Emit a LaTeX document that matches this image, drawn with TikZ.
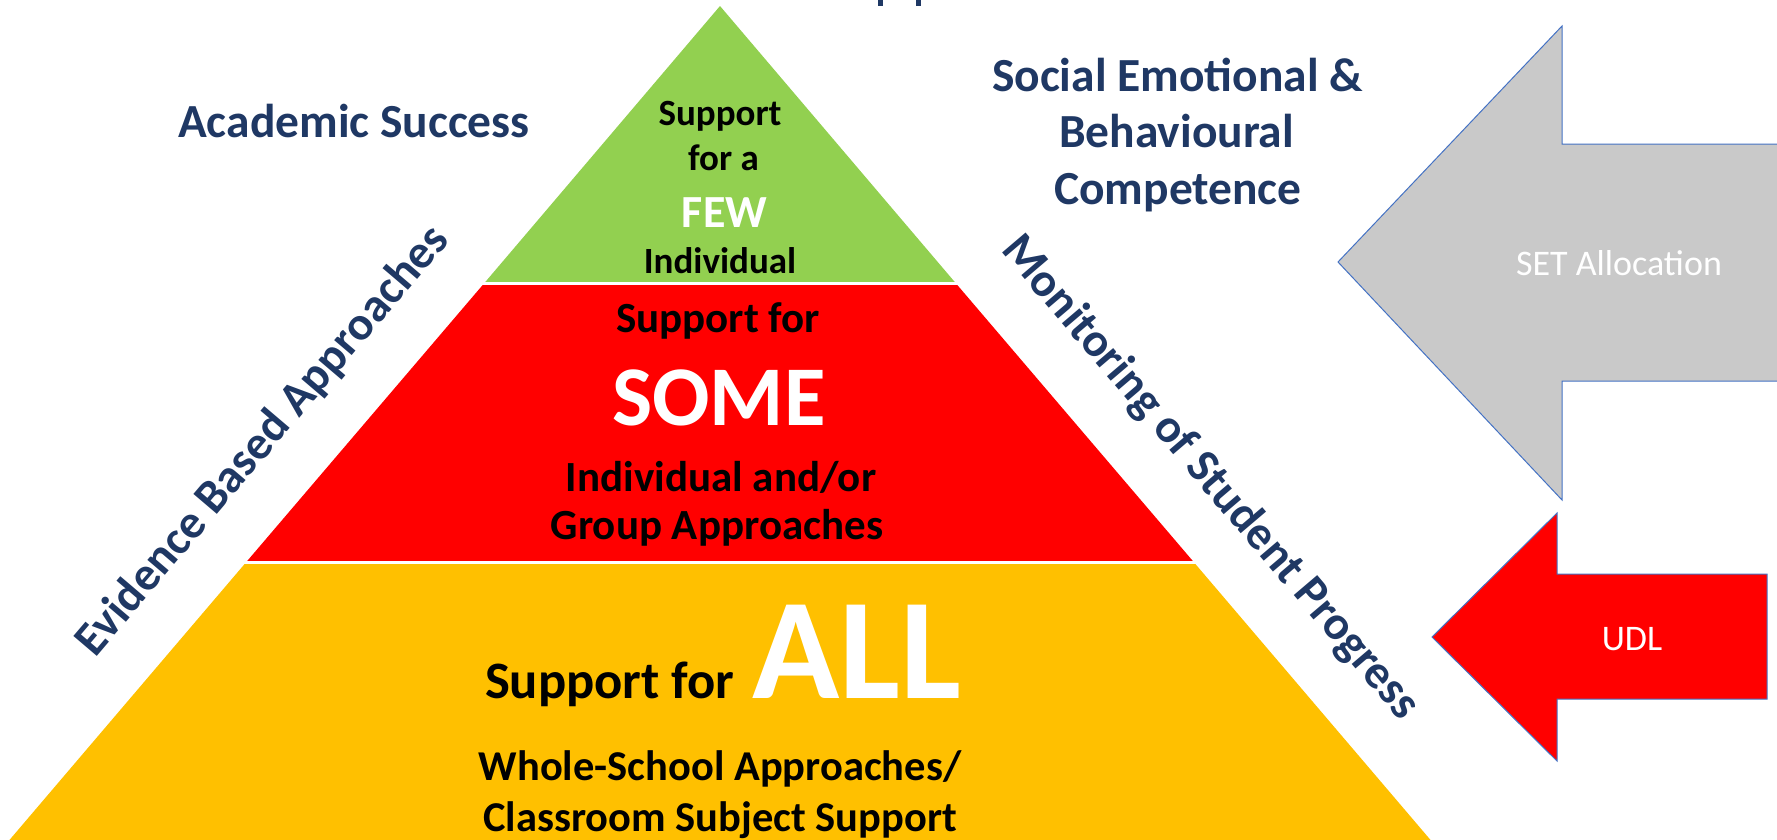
\documentclass[tikz,border=0pt]{standalone}
\usepackage{fontspec}
\setmainfont{Carlito}
\definecolor{navy}{HTML}{1F3864}
\definecolor{pgreen}{HTML}{92D050}
\definecolor{pred}{HTML}{FF0000}
\definecolor{pyellow}{HTML}{FFC000}
\definecolor{agray}{HTML}{C9C9C9}
\definecolor{aline}{HTML}{4472C4}
\tikzset{
  lbl/.style={inner sep=0pt, outer sep=0pt},
  navytxt/.style={lbl, text=navy, font=\bfseries\fontsize{47.5}{57}\selectfont},
  fewtxt/.style={lbl, text=black, font=\bfseries\fontsize{37}{44}\selectfont},
  sometxt/.style={lbl, text=black, font=\bfseries\fontsize{43}{50}\selectfont},
  alltxt/.style={lbl, text=black, font=\bfseries\fontsize{42.5}{50}\selectfont},
  arrowtxt/.style={lbl, text=white, font=\fontsize{36}{43}\selectfont},
  arrowshape/.style={draw=aline, line width=1pt},
  sep/.style={white, line width=3pt}
}
\begin{document}
\begin{tikzpicture}[x=1pt,y=-1pt]
\useasboundingbox (0,0) rectangle (1777,839);
% pyramid bands
\fill[pgreen] (720,6) -- (955.6,283) -- (484.4,283) -- cycle;
\fill[pred] (484.4,283) -- (955.6,283) -- (1194.1,562.5) -- (245.9,562.5) -- cycle;
\fill[pyellow] (245.9,562.5) -- (1194.1,562.5) -- (1434.8,845) -- (5.2,845) -- cycle;
\draw[sep] (470,283) -- (970,283);
\draw[sep] (230,562.5) -- (1210,562.5);
% cut-off title descenders
\fill[navy] (878.3,0) rectangle (883.3,5.7);
\fill[navy] (916,0) rectangle (921,5.7);
% arrows
\filldraw[agray, arrowshape] (1790,144) -- (1562,144) -- (1562,26) -- (1338,262) -- (1562,500) -- (1562,381) -- (1790,381);
\filldraw[pred, arrowshape] (1767,574) -- (1557,574) -- (1557,513) -- (1432,637) -- (1557,761) -- (1557,699) -- (1767,699) -- cycle;
\node[arrowtxt, anchor=base] (set) at (1619,275) {SET Allocation};
\node[arrowtxt, anchor=base] (udl) at (1632,650) {UDL};
% side headings
\node[navytxt, anchor=base] (acad) at (354,137) {Academic Success};
\node[navytxt, anchor=base] (soc1) at (1177.5,91) {Social Emotional \&};
\node[navytxt, anchor=base] (soc2) at (1176.5,147) {Behavioural};
\node[navytxt, anchor=base] (soc3) at (1178,204) {Competence};
\node[navytxt, rotate=49.6] (evid) at (263,441) {Evidence Based Approaches};
\node[navytxt, rotate=-49.6] (moni) at (1210,478) {Monitoring of Student Progress};
% green tier
\node[fewtxt, anchor=base] (g1) at (720,125) {Support};
\node[fewtxt, anchor=base] (g2) at (723.5,170) {for a};
\node[lbl, text=white, font=\bfseries\fontsize{46}{55}\selectfont, anchor=base] (g3) at (724.5,227) {FEW};
\node[fewtxt, anchor=base] (g4) at (720,273) {Individual};
% red tier
\node[sometxt, anchor=base] (r1) at (718,332) {Support for};
\node[lbl, text=white, font=\bfseries\fontsize{85}{95}\selectfont, anchor=base] (r2) at (719,425) {SOME};
\node[sometxt, anchor=base] (r3) at (721,491) {Individual and/or};
\node[sometxt, anchor=base] (r4) at (717,539) {Group Approaches};
% yellow tier
\node[lbl, text=black, font=\bfseries\fontsize{52.6}{60}\selectfont, anchor=base west] (y1) at (485,698) {Support for};
\node[lbl, text=white, font=\bfseries\fontsize{144}{160}\selectfont, anchor=base west] (y2) at (752,698) {ALL};
\node[alltxt, anchor=base] (y3) at (720,780) {Whole-School Approaches/};
\node[alltxt, anchor=base] (y4) at (720,831) {Classroom Subject Support};
\end{tikzpicture}
\end{document}
